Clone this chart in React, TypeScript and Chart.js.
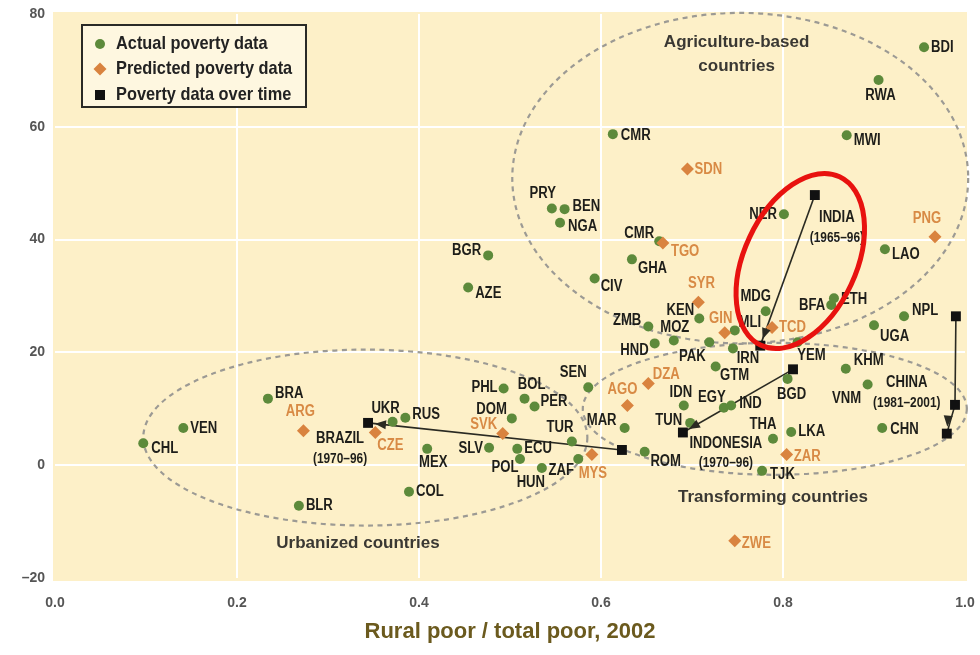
import React, { useEffect, useRef } from "react";
import { Chart, registerables } from "chart.js";
Chart.register(...registerables);

// ---------- DATA ----------
const ACTUAL_CODES = ["CHL","VEN","BRA","BLR","UKR","RUS","MEX","COL","PHL","BOL","PER","DOM","SLV","ECU","POL","HUN","ZAF","TUR","SEN","MAR","ROM","IDN","EGY","IND","TUN","HND","ZMB","MOZ","KEN","PAK","IRN","GTM","MDG","MLI","NER","BFA","ETH","YEM","BGD","THA","LKA","TJK","KHM","VNM","CHN","UGA","NPL","LAO","MWI","RWA","BDI","CMR","PRY","BEN","NGA","BGR","AZE","CIV","GHA","CMR"];
const ACTUAL_X = [0.097,0.141,0.234,0.268,0.371,0.385,0.409,0.389,0.493,0.516,0.527,0.502,0.477,0.508,0.511,0.535,0.575,0.568,0.586,0.626,0.648,0.691,0.735,0.743,0.698,0.659,0.652,0.680,0.708,0.719,0.745,0.726,0.781,0.747,0.801,0.853,0.856,0.816,0.805,0.789,0.809,0.777,0.869,0.893,0.909,0.900,0.933,0.912,0.870,0.905,0.955,0.613,0.546,0.560,0.555,0.476,0.454,0.593,0.634,0.664];
const ACTUAL_Y = [3.9,6.6,11.8,-7.2,7.7,8.4,2.9,-4.7,13.6,11.8,10.4,8.3,3.1,2.9,1.1,-0.5,1.1,4.2,13.8,6.6,2.4,10.6,10.2,10.6,7.5,21.6,24.6,22.1,26.0,21.8,20.7,17.5,27.3,23.9,44.5,28.4,29.6,21.8,15.3,4.7,5.9,-1.0,17.1,14.3,6.6,24.8,26.4,38.3,58.5,68.3,74.1,58.7,45.5,45.4,43.0,37.2,31.5,33.1,36.5,39.7];

const PRED_CODES = ["ARG","CZE","SVK","MYS","AGO","DZA","SYR","GIN","TCD","TGO","SDN","PNG","ZAR","ZWE"];
const PRED_X = [0.273,0.352,0.492,0.590,0.629,0.652,0.707,0.736,0.788,0.668,0.695,0.967,0.804,0.747];
const PRED_Y = [6.1,5.8,5.6,1.9,10.6,14.5,28.9,23.5,24.4,39.4,52.5,40.5,1.9,-13.4];

const TREND_NAMES = ["BRAZIL","INDIA","INDONESIA","CHINA"];
const TREND_YEARS = ["(1970–96)","(1965–96)","(1970–96)","(1981–2001)"];
const TREND_X = [[0.623,0.344],[0.835,0.775],[0.811,0.690],[0.990,0.989,0.980]];
const TREND_Y = [[2.7,7.5],[47.9,21.2],[17.0,5.8],[26.4,10.7,5.6]];

const GROUP_TEXT = ["Agriculture-based","countries","Transforming countries","Urbanized countries"];
const GROUP_TEXT_X = [0.749,0.749,0.789,0.333];
const GROUP_TEXT_Y = [75.0,70.7,-5.7,-13.9];

// dashed group ellipses: centre x, centre y, half-width (x units), half-height (y units)
const GROUP_ELLIPSE_CX = [0.753,0.341,0.791];
const GROUP_ELLIPSE_CY = [50.9,4.9,10.0];
const GROUP_ELLIPSE_RX = [0.2505,0.244,0.211];
const GROUP_ELLIPSE_RY = [29.3,15.6,11.7];

const HIGHLIGHT_CX = 0.819;
const HIGHLIGHT_CY = 36.2;

const X_TICKS = [0, 0.2, 0.4, 0.6, 0.8, 1.0];
const Y_TICKS = [-20, 0, 20, 40, 60, 80];

// ---------- LABEL LAYOUT (align, dx, dy in px) ----------
const ACTUAL_LABEL_POS: [string, number, number][] = [
  ["l",8,5],["l",7,1],["l",7,-5],["l",7,0],["c",-7,-13],["l",7,-3],["c",6,14],["l",7,0],
  ["r",-6,-1],["c",7,-14],["l",6,-5],["r",-5,-9],["r",-6,1],["l",7,0],["c",-15,9],["c",-11,15],
  ["c",-17,12],["c",-12,-14],["c",-15,-15],["c",-23,-7],["c",21,10],["c",-3,-13],["c",-12,-10],["l",8,-2],
  ["r",-8,-2],["r",-6,7],["r",-7,-6],["c",1,-13],["c",-19,-8],["c",-17,14],["c",15,10],["c",19,9],
  ["c",-10,-15],["c",15,-8],["r",-7,0],["r",-6,1],["l",7,1],["c",14,13],["c",4,16],["c",-10,-14],
  ["l",7,0],["l",8,4],["l",8,-8],["c",-21,14],["l",8,2],["l",6,11],["l",8,-6],["l",7,5],
  ["l",7,5],["c",2,16],["l",7,0],["l",8,1],["c",-9,-15],["l",8,-3],["l",8,4],["r",-7,-5],
  ["l",7,6],["l",6,8],["l",6,9],["r",-5,-8]
];
const PRED_LABEL_POS: [string, number, number][] = [
  ["c",-3,-19],["c",15,13],["c",-19,-9],["c",1,19],["c",-5,-16],["c",18,-9],["c",3,-19],
  ["c",-4,-14],["l",7,0],["l",8,9],["l",7,0],["c",-8,-18],["l",7,2],["l",7,3]
];
// anchor point index, dx, dy of first line centre
const TREND_LABEL_POS: [number, number, number][] = [[1,-28,16],[0,22,23],[1,43,11],[2,-40,-51]];

const GREEN = "#5d8a3b";
const ORANGE = "#d9833f";
const ORANGE_TEXT = "#d88a45";
const BG = "#fdf0c8";
const LABEL_FONT = 'bold 16px "Liberation Sans", Arial, sans-serif';
const YEAR_FONT = 'bold 14.5px "Liberation Sans", Arial, sans-serif';

function drawText(ctx: CanvasRenderingContext2D, text: string, x: number, y: number, align: string, font: string, color: string, sx: number) {
  ctx.save();
  ctx.font = font;
  ctx.fillStyle = color;
  ctx.textBaseline = "middle";
  ctx.textAlign = align === "l" ? "left" : align === "r" ? "right" : "center";
  ctx.translate(x, y);
  ctx.scale(sx, 1);
  ctx.fillText(text, 0, 0);
  ctx.restore();
}

const bgPlugin = {
  id: "bgPlugin",
  beforeDraw(chart: any) {
    const { ctx, chartArea: a } = chart;
    ctx.save();
    ctx.fillStyle = BG;
    ctx.fillRect(a.left - 2, a.top - 2, a.right - a.left + 4, a.bottom - a.top + 5);
    ctx.restore();
  },
  beforeDatasetsDraw(chart: any) {
    const { ctx } = chart;
    const xs = chart.scales.x, ys = chart.scales.y;
    ctx.save();
    ctx.strokeStyle = "#9c9a94";
    ctx.lineWidth = 2.2;
    ctx.setLineDash([5, 4.5]);
    for (let i = 0; i < GROUP_ELLIPSE_CX.length; i++) {
      const cx = xs.getPixelForValue(GROUP_ELLIPSE_CX[i]);
      const cy = ys.getPixelForValue(GROUP_ELLIPSE_CY[i]);
      const rx = Math.abs(xs.getPixelForValue(GROUP_ELLIPSE_CX[i] + GROUP_ELLIPSE_RX[i]) - cx);
      const ry = Math.abs(ys.getPixelForValue(GROUP_ELLIPSE_CY[i] + GROUP_ELLIPSE_RY[i]) - cy);
      ctx.beginPath();
      ctx.ellipse(cx, cy, rx, ry, 0, 0, Math.PI * 2);
      ctx.stroke();
    }
    ctx.restore();
  },
};

const overlayPlugin = {
  id: "overlayPlugin",
  afterDatasetsDraw(chart: any) {
    const { ctx, chartArea } = chart;
    const xs = chart.scales.x, ys = chart.scales.y;
    // arrowheads
    ctx.save();
    ctx.fillStyle = "#2a2a22";
    for (let t = 0; t < TREND_X.length; t++) {
      const n = TREND_X[t].length;
      const x0 = xs.getPixelForValue(TREND_X[t][0]);
      const y0 = ys.getPixelForValue(TREND_Y[t][0]);
      const x1 = xs.getPixelForValue(TREND_X[t][n - 1]);
      const y1 = ys.getPixelForValue(TREND_Y[t][n - 1]);
      const ang = Math.atan2(y1 - y0, x1 - x0);
      const tipX = x1 - Math.cos(ang) * 7;
      const tipY = y1 - Math.sin(ang) * 7;
      const L = 11, W = 4.5;
      ctx.beginPath();
      ctx.moveTo(tipX, tipY);
      ctx.lineTo(tipX - Math.cos(ang) * L - Math.sin(ang) * W, tipY - Math.sin(ang) * L + Math.cos(ang) * W);
      ctx.lineTo(tipX - Math.cos(ang) * L + Math.sin(ang) * W, tipY - Math.sin(ang) * L - Math.cos(ang) * W);
      ctx.closePath();
      ctx.fill();
    }
    ctx.restore();

    // country labels
    for (let i = 0; i < ACTUAL_CODES.length; i++) {
      const p = ACTUAL_LABEL_POS[i];
      const x = xs.getPixelForValue(ACTUAL_X[i]) + p[1];
      const y = ys.getPixelForValue(ACTUAL_Y[i]) + p[2];
      drawText(ctx, ACTUAL_CODES[i], x, y, p[0], LABEL_FONT, "#1e1e1a", 0.82);
    }
    for (let i = 0; i < PRED_CODES.length; i++) {
      const p = PRED_LABEL_POS[i];
      const x = xs.getPixelForValue(PRED_X[i]) + p[1];
      const y = ys.getPixelForValue(PRED_Y[i]) + p[2];
      drawText(ctx, PRED_CODES[i], x, y, p[0], LABEL_FONT, ORANGE_TEXT, 0.82);
    }
    for (let t = 0; t < TREND_NAMES.length; t++) {
      const p = TREND_LABEL_POS[t];
      const x = xs.getPixelForValue(TREND_X[t][p[0]]) + p[1];
      const y = ys.getPixelForValue(TREND_Y[t][p[0]]) + p[2];
      drawText(ctx, TREND_NAMES[t], x, y, "c", LABEL_FONT, "#1e1e1a", 0.82);
      drawText(ctx, TREND_YEARS[t], x, y + 20, "c", YEAR_FONT, "#1e1e1a", 0.82);
    }
    // group labels
    for (let i = 0; i < GROUP_TEXT.length; i++) {
      drawText(ctx, GROUP_TEXT[i], xs.getPixelForValue(GROUP_TEXT_X[i]), ys.getPixelForValue(GROUP_TEXT_Y[i]), "c",
        'bold 17px "Liberation Sans", Arial, sans-serif', "#3a3833", 1);
    }

    // red highlight ellipse
    ctx.save();
    ctx.strokeStyle = "#e8120f";
    ctx.lineWidth = 5;
    ctx.beginPath();
    ctx.ellipse(xs.getPixelForValue(HIGHLIGHT_CX), ys.getPixelForValue(HIGHLIGHT_CY), 56, 93, (25 * Math.PI) / 180, 0, Math.PI * 2);
    ctx.stroke();
    ctx.restore();

    // legend
    const lx = chartArea.left + 27, ly = chartArea.top + 11;
    ctx.save();
    ctx.fillStyle = "#fef7e0";
    ctx.fillRect(lx, ly, 224, 82);
    ctx.strokeStyle = "#2a2a26";
    ctx.lineWidth = 2;
    ctx.strokeRect(lx, ly, 224, 82);
    const mx = lx + 18;
    ctx.fillStyle = GREEN;
    ctx.beginPath();
    ctx.arc(mx, ly + 19, 5, 0, Math.PI * 2);
    ctx.fill();
    ctx.fillStyle = ORANGE;
    ctx.beginPath();
    ctx.moveTo(mx, ly + 44 - 6.5);
    ctx.lineTo(mx + 6.5, ly + 44);
    ctx.lineTo(mx, ly + 44 + 6.5);
    ctx.lineTo(mx - 6.5, ly + 44);
    ctx.closePath();
    ctx.fill();
    ctx.fillStyle = "#111";
    ctx.fillRect(mx - 5, ly + 70 - 5, 10, 10);
    ctx.restore();
    const lf = 'bold 19px "Liberation Sans", Arial, sans-serif';
    drawText(ctx, "Actual poverty data", lx + 34, ly + 19, "l", lf, "#222", 0.86);
    drawText(ctx, "Predicted poverty data", lx + 34, ly + 44, "l", lf, "#222", 0.86);
    drawText(ctx, "Poverty data over time", lx + 34, ly + 70, "l", lf, "#222", 0.86);
  },
};

export default function App() {
  const ref = useRef<HTMLCanvasElement>(null);
  useEffect(() => {
    document.body.style.margin = "0";
    const trendSets = TREND_X.map((xs, t) => ({
      label: TREND_NAMES[t],
      data: xs.map((x, k) => ({ x, y: TREND_Y[t][k] })),
      showLine: true,
      borderColor: "#2a2a22",
      borderWidth: 1.6,
      pointRadius: 0,
      order: 4,
    }));
    const squares: { x: number; y: number }[] = [];
    TREND_X.forEach((xs, t) => xs.forEach((x, k) => squares.push({ x, y: TREND_Y[t][k] })));
    const chart = new Chart(ref.current as HTMLCanvasElement, {
      type: "scatter",
      data: {
        datasets: [
          ...trendSets,
          {
            label: "Actual poverty data",
            data: ACTUAL_X.map((x, i) => ({ x, y: ACTUAL_Y[i] })),
            pointStyle: "circle",
            pointRadius: 5,
            backgroundColor: GREEN,
            borderWidth: 0,
            order: 3,
          },
          {
            label: "Predicted poverty data",
            data: PRED_X.map((x, i) => ({ x, y: PRED_Y[i] })),
            pointStyle: "rectRot",
            pointRadius: 6.5,
            backgroundColor: ORANGE,
            borderWidth: 0,
            order: 2,
          },
          {
            label: "Poverty data over time",
            data: squares,
            pointStyle: "rect",
            pointRadius: 7,
            backgroundColor: "#111",
            borderWidth: 0,
            order: 1,
          },
        ] as any,
      },
      options: {
        animation: false,
        responsive: true,
        maintainAspectRatio: false,
        layout: { padding: { top: 14, right: 15, left: 0, bottom: 0 } },
        plugins: { legend: { display: false }, tooltip: { enabled: false } },
        scales: {
          x: {
            type: "linear",
            min: 0,
            max: 1,
            afterFit: (s: any) => { s.height = 77; s.paddingLeft = 0; s.paddingRight = 0; },
            afterBuildTicks: (s: any) => { s.ticks = X_TICKS.map((v) => ({ value: v })); },
            border: { display: false },
            grid: {
              drawTicks: false,
              lineWidth: 2,
              color: (c: any) => (c.tick && c.tick.value > 0.01 && c.tick.value < 0.99 ? "#ffffff" : "rgba(0,0,0,0)"),
            },
            ticks: {
              padding: 17,
              color: "#555",
              font: { family: '"Liberation Sans", Arial, sans-serif', size: 14, weight: "bold" },
              callback: (v: any) => Number(v).toFixed(1),
            },
            title: {
              display: true,
              text: "Rural poor / total poor, 2002",
              color: "#6b5a1e",
              font: { family: '"Liberation Sans", Arial, sans-serif', size: 22, weight: "bold" },
              padding: { top: 0, bottom: 10 },
            },
          },
          y: {
            type: "linear",
            min: -20,
            max: 80,
            afterFit: (s: any) => { s.width = 55; s.paddingTop = 0; s.paddingBottom = 0; },
            afterBuildTicks: (s: any) => { s.ticks = Y_TICKS.map((v) => ({ value: v })); },
            border: { display: false },
            grid: {
              drawTicks: false,
              lineWidth: 2,
              color: (c: any) => (c.tick && c.tick.value > -19 && c.tick.value < 79 ? "#ffffff" : "rgba(0,0,0,0)"),
            },
            ticks: {
              padding: 10,
              color: "#555",
              font: { family: '"Liberation Sans", Arial, sans-serif', size: 14, weight: "bold" },
              callback: (v: any) => (Number(v) < 0 ? "–" + Math.abs(Number(v)) : String(v)),
            },
          },
        },
      },
      plugins: [bgPlugin, overlayPlugin],
    });
    return () => chart.destroy();
  }, []);
  return (
    <div style={{ width: 980, height: 655, position: "relative" }}>
      <canvas ref={ref} />
    </div>
  );
}
